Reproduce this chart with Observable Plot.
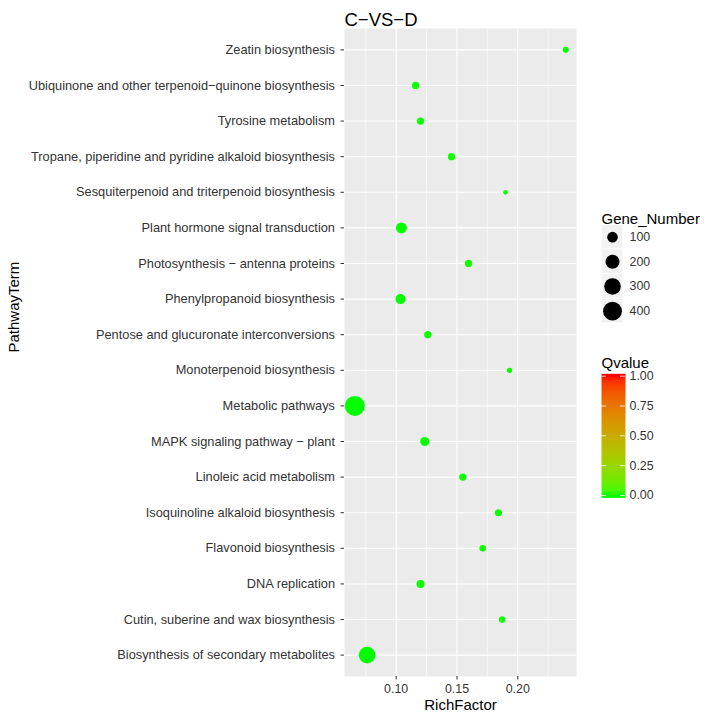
<!DOCTYPE html>
<html>
<head>
<meta charset="utf-8">
<script src="https://cdn.jsdelivr.net/npm/d3@7"></script>
<script src="https://cdn.jsdelivr.net/npm/@observablehq/plot@0.6"></script>
<style>
  html, body { margin: 0; padding: 0; background: #ffffff; }
  #wrap { position: relative; width: 708px; height: 717px; background: #ffffff; overflow: hidden; }
  #wrap > svg, #wrap > figure { position: absolute; margin: 0; }
</style>
</head>
<body>
<div id="wrap"></div>
<script>
// ---- data (top to bottom as drawn) ----
const pathways = [
  "Zeatin biosynthesis",
  "Ubiquinone and other terpenoid\u2212quinone biosynthesis",
  "Tyrosine metabolism",
  "Tropane, piperidine and pyridine alkaloid biosynthesis",
  "Sesquiterpenoid and triterpenoid biosynthesis",
  "Plant hormone signal transduction",
  "Photosynthesis \u2212 antenna proteins",
  "Phenylpropanoid biosynthesis",
  "Pentose and glucuronate interconversions",
  "Monoterpenoid biosynthesis",
  "Metabolic pathways",
  "MAPK signaling pathway \u2212 plant",
  "Linoleic acid metabolism",
  "Isoquinoline alkaloid biosynthesis",
  "Flavonoid biosynthesis",
  "DNA replication",
  "Cutin, suberine and wax biosynthesis",
  "Biosynthesis of secondary metabolites"
];
const richFactor = [0.2395, 0.1159, 0.1200, 0.1455, 0.1899, 0.1043, 0.1595, 0.1035, 0.1260,
                    0.1932, 0.0660, 0.1235, 0.1548, 0.1841, 0.1712, 0.1200, 0.1872, 0.0761];
const geneNumber = [20, 36, 36, 36, 8, 110, 36, 86, 36, 13, 460, 65, 36, 33, 27, 47, 27, 302];
const qValue = [0.002, 0.003, 0.003, 0.004, 0.004, 0.001, 0.003, 0.001, 0.003,
                0.004, 0.000, 0.002, 0.003, 0.003, 0.003, 0.002, 0.004, 0.000];
const xTicks = [0.10, 0.15, 0.20];
const xMinor = [0.075, 0.125, 0.175, 0.225];
const sizeBreaks = [100, 200, 300, 400];
const qTicks = [0, 0.25, 0.5, 0.75, 1];
const titleText = "C\u2212VS\u2212D";

const data = pathways.map((term, i) => ({term, rich: richFactor[i], genes: geneNumber[i], q: qValue[i]}));

const font = "'Liberation Sans', Arial, Helvetica, sans-serif";
const rScale = {type: "sqrt", domain: [8, 460], range: [2.35, 10]};
const colorScale = {type: "linear", domain: [0, 1], range: ["#00ff00", "#ff0000"], interpolate: "lab"};
const baseStyle = {fontFamily: font, fontSize: "12px", color: "#333333", background: "transparent", overflow: "visible"};

const wrap = document.getElementById("wrap");

// ---- main panel ----
const main = Plot.plot({
  width: 590, height: 717,
  marginLeft: 344, marginRight: 14, marginTop: 28, marginBottom: 41,
  style: baseStyle,
  x: {domain: [0.0575, 0.2483]},
  y: {type: "point", domain: pathways, padding: 0.6, round: false},
  r: rScale,
  color: colorScale,
  marks: [
    Plot.frame({fill: "#ebebeb", stroke: null}),
    Plot.gridX(xMinor, {stroke: "#ffffff", strokeOpacity: 1, strokeWidth: 0.55}),
    Plot.gridX(xTicks, {stroke: "#ffffff", strokeOpacity: 1, strokeWidth: 1.1}),
    Plot.gridY(pathways, {stroke: "#ffffff", strokeOpacity: 1, strokeWidth: 1.1}),
    Plot.axisX(xTicks, {tickSize: 3.5, tickPadding: 4, tickFormat: ".2f", label: null, fontSize: 12.4}),
    Plot.axisY({tickSize: 3.5, tickPadding: 6, label: null, fontSize: 12.8}),
    Plot.dot(data, {x: "rich", y: "term", r: "genes", fill: "q", stroke: null}),
    Plot.text(["RichFactor"], {frameAnchor: "bottom", dy: 33, fontSize: 15, fill: "#000000"}),
    Plot.text(["PathwayTerm"], {frameAnchor: "left", dx: -330.5, rotate: -90, fontSize: 15, fill: "#000000"}),
    Plot.text([titleText], {frameAnchor: "top-left", dy: -16, textAnchor: "start", fontSize: 18.5, fill: "#000000"})
  ]
});
main.style.left = "0px"; main.style.top = "0px";
wrap.appendChild(main);

// ---- size legend ----
const sizeLegend = Plot.plot({
  width: 110, height: 140,
  marginTop: 34.3, marginBottom: 7, marginLeft: 11, marginRight: 77,
  style: baseStyle,
  x: {type: "band", domain: ["key"], axis: null, padding: 0, round: false},
  y: {type: "band", domain: sizeBreaks, axis: null, padding: 0, round: false},
  r: rScale,
  marks: [
    Plot.cell(sizeBreaks, {x: () => "key", y: d => d, fill: "#f2f2f2", inset: 0.6}),
    Plot.dot(sizeBreaks, {x: () => "key", y: d => d, r: d => d, fill: "#000000", stroke: null}),
    Plot.text(sizeBreaks, {x: () => "key", y: d => d, dx: 17, textAnchor: "start", fontSize: 12.4, fill: "#333333"}),
    Plot.text(["Gene_Number"], {frameAnchor: "top-left", dy: -11, textAnchor: "start", fontSize: 15, fill: "#000000"})
  ]
});
sizeLegend.style.left = "590px"; sizeLegend.style.top = "190px";
wrap.appendChild(sizeLegend);

// ---- colour bar legend ----
const barLo = -0.02, barHi = 1.02;
const colorLegend = Plot.plot({
  width: 110, height: 160,
  marginTop: 30.7, marginBottom: 10, marginLeft: 11, marginRight: 75,
  style: baseStyle,
  x: {domain: [0, 1], axis: null},
  y: {domain: [0, 1], axis: null},
  color: colorScale,
  marks: [
    Plot.raster({x1: 0, x2: 1, y1: barLo, y2: barHi, width: 1, height: 200,
                 fill: (x, y) => Math.max(0, Math.min(1, y)), imageRendering: "auto"}),
    Plot.ruleY(qTicks, {y: d => d, stroke: "#ffffff", strokeWidth: 0.8, insetRight: 19}),
    Plot.ruleY(qTicks, {y: d => d, stroke: "#ffffff", strokeWidth: 0.8, insetLeft: 19}),
    Plot.text(qTicks, {y: d => d, frameAnchor: "right", dx: 4, textAnchor: "start", text: d => d.toFixed(2), fontSize: 12.4, fill: "#333333"}),
    Plot.text(["Qvalue"], {frameAnchor: "top-left", dy: -19, textAnchor: "start", fontSize: 15, fill: "#000000"})
  ]
});
colorLegend.style.left = "590px"; colorLegend.style.top = "345px";
wrap.appendChild(colorLegend);
</script>
</body>
</html>
